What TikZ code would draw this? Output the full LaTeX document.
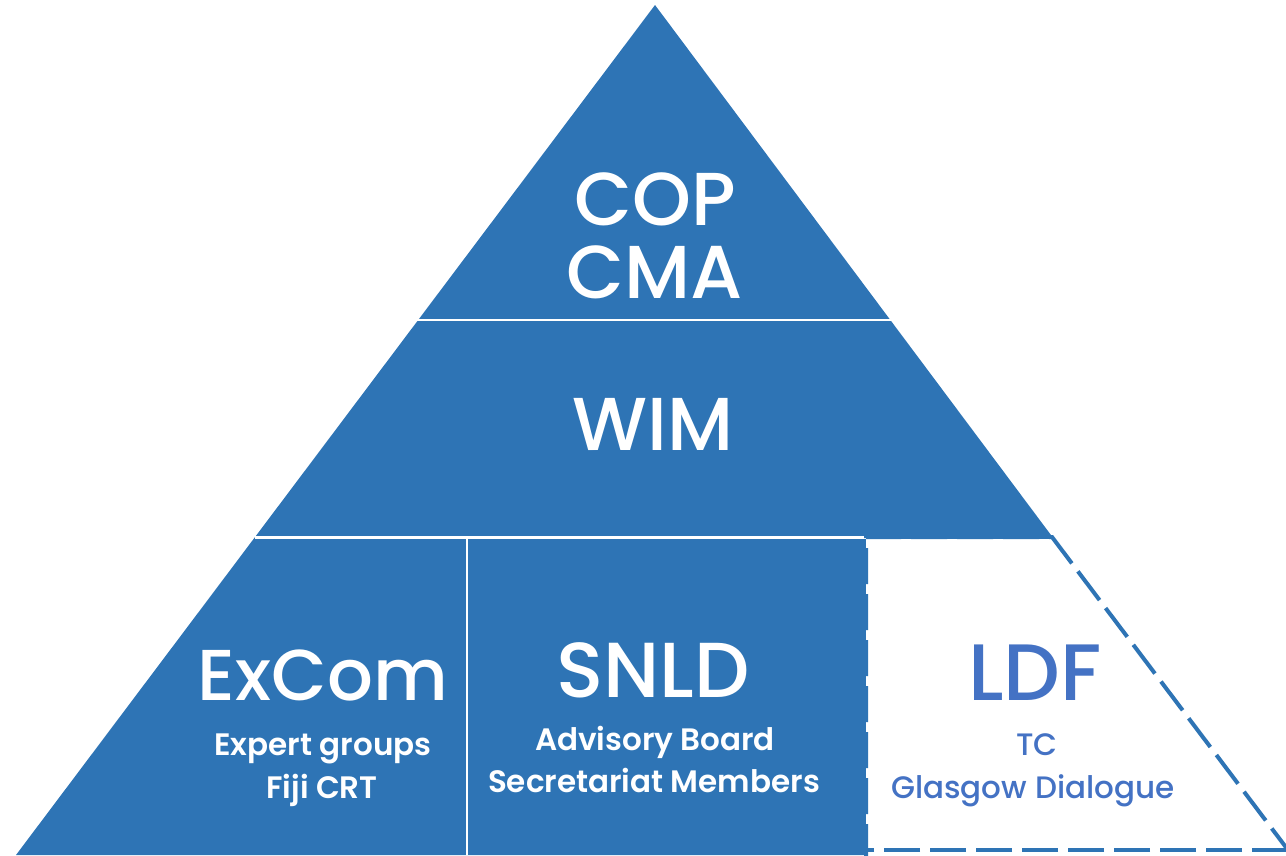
\documentclass[tikz,border=0pt]{standalone}
\usepackage{fontspec}
\setmainfont{Poppins}[UprightFont=* Medium, BoldFont=* SemiBold]
\definecolor{tierblue}{HTML}{2E74B5}
\definecolor{ldfblue}{HTML}{4472C4}
\begin{document}
\begin{tikzpicture}[x=1pt,y=-1pt,
  bigtext/.style={font=\fontsize{75}{75}\selectfont, text=white, anchor=base, inner sep=0pt},
  subtext/.style={font=\bfseries\fontsize{31}{31}\selectfont, text=white, anchor=base, inner sep=0pt},
  divider/.style={draw=white, line width=2pt},
  ldfedge/.style={draw=tierblue, line width=4pt, dash pattern=on 36pt off 10pt}]
  \useasboundingbox (0,0) rectangle (1286,855);
  \clip (0,0) rectangle (1286,855);

  % pyramid body
  \coordinate (apex) at (655,5);
  \coordinate (bl) at (16,855);
  \coordinate (br) at (1290,855);
  \fill[tierblue] (apex) -- (bl) -- (br) -- cycle;

  % tier dividers
  \draw[divider] (417,320) -- (893,320);
  \draw[divider, line width=3pt] (255,537) -- (866,537);
  \draw[divider] (467,537) -- (467,855);

  % open LDF cell with dashed outline
  \coordinate (l1) at (866,537);
  \coordinate (l2) at (1052,537);
  \coordinate (l3) at (1288,850);
  \coordinate (l4) at (866,850);
  \fill[white] (866,539) rectangle (1290,860);
  \draw[ldfedge] (866,860) -- (l1) -- (l2) -- (l3);
  \draw[ldfedge] (l3) -- (l4);

  % labels
  \node[bigtext] (cop) at (655,225) {COP};
  \node[bigtext] (cma) at (655,298) {CMA};
  \node[bigtext] (wim) at (653,450) {WIM};
  \node[bigtext, font=\fontsize{72}{72}\selectfont] (excom) at (323,700) {ExCom};
  \node[subtext] (expert) at (323,755) {Expert groups};
  \node[subtext] (fiji) at (322,798) {Fiji CRT};
  \node[bigtext, font=\fontsize{78}{78}\selectfont] (snld) at (653,697) {SNLD};
  \node[subtext] (advisory) at (655,750) {Advisory Board};
  \node[subtext] (secretariat) at (654,792) {Secretariat Members};
  \node[bigtext, text=ldfblue, font=\fontsize{80}{80}\selectfont] (ldf) at (1035,700) {LDF};
  \node[subtext, text=ldfblue, font=\fontsize{31}{31}\selectfont] (tc) at (1037,755) {TC};
  \node[subtext, text=ldfblue, font=\fontsize{31}{31}\selectfont] (glasgow) at (1033,798) {Glasgow Dialogue};
\end{tikzpicture}
\end{document}
